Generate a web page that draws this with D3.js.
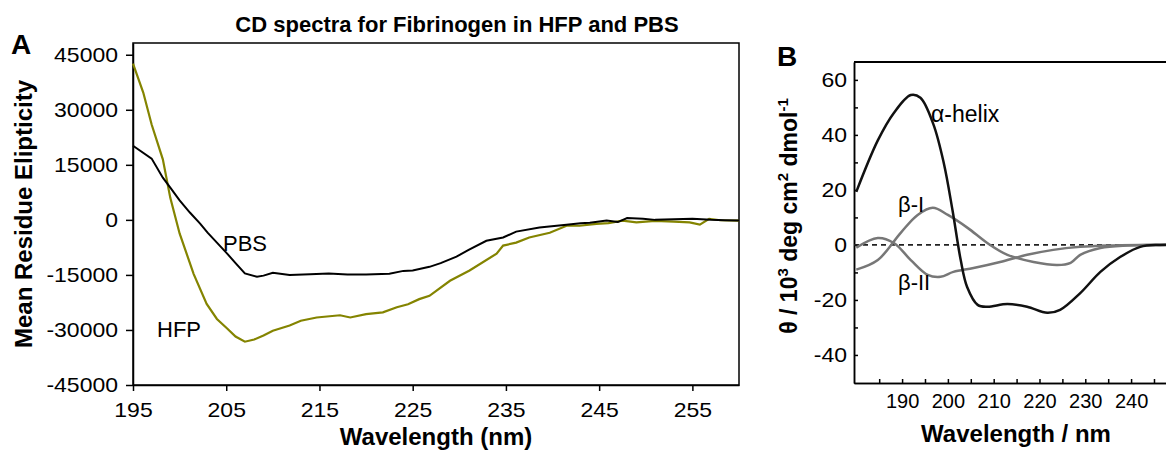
<!DOCTYPE html>
<html>
<head>
<meta charset="utf-8">
<script src="https://cdn.jsdelivr.net/npm/d3@7"></script>
<style>
  body { margin: 0; background: #fff; }
  svg { display: block; font-family: Arial, "Liberation Sans", sans-serif; }
  .axis path, .axis line { stroke: #000; stroke-width: 1.5; }
  .axis text { font-size: 20px; fill: #000; }
</style>
</head>
<body>
<div id="chart"></div>
<script>
var width = 1166, height = 451;
var stretch = 1.15; // tick labels are drawn a little wide in the original

// Panel A data: wavelength (nm) and mean residue ellipticity
var pbsWave = [195, 197, 198.2, 199, 200, 201.1, 202.2, 203, 204, 205.1, 206, 207, 208.3, 209, 210, 211.8, 214, 216, 218, 220, 222.5, 224, 225, 226.8, 228, 229.7, 231, 232.9, 234.7, 236.1, 238.6, 241.5, 243, 244, 245.8, 247, 248, 249.7, 251, 253, 255, 257, 258.5, 260];
var pbsVals = [20200, 16700, 11500, 8800, 5300, 2000, -1000, -3500, -6200, -9200, -11800, -14600, -15500, -15200, -14400, -15000, -14800, -14600, -14900, -14900, -14700, -13900, -13800, -12800, -11800, -10000, -8200, -5700, -4800, -3200, -2100, -1300, -900, -800, -200, -600, 500, 300, 0, 200, 300, 0, -100, -200];

var hfpWave = [195, 196.1, 197, 198.2, 199, 200, 201.5, 202.9, 204, 205.1, 206, 207, 208, 209, 210, 211.8, 213, 214.7, 217.2, 218.3, 220, 221.8, 223.3, 224.5, 225.7, 226.8, 229, 231.1, 234, 234.7, 236.1, 237.5, 239.7, 241.5, 242.9, 244.7, 246, 247.5, 249, 251, 253, 254.7, 255.8, 256.8, 258, 260];
var hfpVals = [42600, 34700, 26000, 16500, 6000, -3700, -14700, -22900, -27000, -29600, -31800, -33200, -32600, -31500, -30200, -28800, -27500, -26600, -26000, -26600, -25700, -25200, -23800, -23000, -21600, -20700, -16600, -13800, -9200, -7000, -6200, -4800, -3500, -1600, -1600, -1100, -900, -200, -700, -300, -500, -700, -1300, 300, -100, -200];

var xTicksA = [195, 205, 215, 225, 235, 245, 255];
var yTicksA = [-45000, -30000, -15000, 0, 15000, 30000, 45000];

// Panel B data: reference spectra (10^3 deg cm2 dmol-1)
var helixWave = [180, 184.7, 188.2, 191.9, 194, 196.8, 199.1, 201, 202.8, 204.2, 206.5, 208.6, 213, 217.3, 221.7, 224.5, 228.9, 233.3, 237.6, 242, 246.3, 250];
var helixVals = [19.3, 38, 48, 54.5, 53.5, 44, 29.8, 12.7, -5.5, -15.3, -21.8, -22.5, -21.5, -22.5, -24.7, -23.6, -17.5, -9.8, -4.4, -0.7, 0, 0];

var beta1Wave = [180, 184.7, 189.7, 193.4, 196.7, 200, 204.3, 208.6, 213, 218.7, 223.9, 226.8, 228.9, 233.3, 239.2, 246, 250];
var beta1Vals = [-9, -5.5, 4.4, 10.9, 13.5, 10.9, 6.2, 0.7, -3.6, -6.2, -7.3, -6.5, -3.6, -1.1, -0.2, 0, 0];

var beta2Wave = [180, 184.7, 188.2, 191.9, 195.6, 198.4, 201.2, 205.6, 211.4, 217.3, 223, 228.9, 234.7, 242, 250];
var beta2Vals = [-1, 2.5, 0.7, -5.5, -10.9, -11.6, -9.8, -8.4, -6.2, -3.6, -1.8, -0.7, -0.2, 0, 0];

var xTicksB = [190, 200, 210, 220, 230, 240];
var yTicksB = [-40, -20, 0, 20, 40, 60];

var svg = d3.select("#chart")
  .append("svg")
  .attr("width", width)
  .attr("height", height);

// plain text helper
function label(x, y, size, txt, bold, anchor) {
  return svg.append("text")
    .attr("x", x).attr("y", y)
    .attr("font-size", size)
    .attr("font-weight", bold ? "bold" : "normal")
    .attr("text-anchor", anchor || "start")
    .text(txt);
}

// ---------- Panel A ----------
var A = { left: 133, right: 739, top: 43, bottom: 385 };

var xA = d3.scaleLinear().domain([195, 260]).range([A.left, A.right]);
var yA = d3.scaleLinear().domain([-45000, 48200]).range([A.bottom, A.top]);

// frame
svg.append("rect")
  .attr("x", A.left).attr("y", A.top)
  .attr("width", A.right - A.left).attr("height", A.bottom - A.top)
  .attr("fill", "none").attr("stroke", "#000").attr("stroke-width", 1.5);

svg.append("g")
  .attr("class", "axis")
  .attr("transform", `translate(0,${A.bottom})`)
  .call(d3.axisBottom(xA).tickValues(xTicksA).tickSize(6).tickSizeOuter(0).tickFormat(d => d))
  .selectAll("text")
  .attr("y", 32).attr("dy", 0)
  .attr("transform", `scale(${stretch},1)`);

var ayA = svg.append("g")
  .attr("class", "axis")
  .attr("transform", `translate(${A.left},0)`)
  .call(d3.axisLeft(yA).tickValues(yTicksA).tickSize(7).tickSizeOuter(0).tickFormat(d => d));
ayA.selectAll("text")
  .attr("x", -15 / stretch)
  .attr("transform", `scale(${stretch},1)`);

var lineA = d3.line().x(d => xA(d[0])).y(d => yA(d[1]));

svg.append("path")
  .datum(d3.zip(hfpWave, hfpVals))
  .attr("d", lineA)
  .attr("fill", "none")
  .attr("stroke", "#848400")
  .attr("stroke-width", 2.2);

svg.append("path")
  .datum(d3.zip(pbsWave, pbsVals))
  .attr("d", lineA)
  .attr("fill", "none")
  .attr("stroke", "#000")
  .attr("stroke-width", 2);

label(223, 251, 22, "PBS");
label(157, 337, 22, "HFP");

label(457, 32, 22, "CD spectra for Fibrinogen in HFP and PBS", true, "middle");
label(11, 54, 28, "A", true);

svg.append("text")
  .attr("transform", `translate(32,214) rotate(-90)`)
  .attr("text-anchor", "middle")
  .attr("font-size", 24).attr("font-weight", "bold")
  .text("Mean Residue Elipticity");

label(436, 445, 24, "Wavelength (nm)", true, "middle");

// ---------- Panel B ----------
var B = { left: 854, top: 62, bottom: 383 };

var xB = d3.scaleLinear().domain([179.5, 250]).range([B.left, B.left + 70.5 * 4.58]);
var yB = d3.scaleLinear().domain([-50.2, 66.5]).range([B.bottom, B.top]);

svg.append("line")
  .attr("x1", B.left).attr("x2", width)
  .attr("y1", B.top).attr("y2", B.top)
  .attr("stroke", "#000").attr("stroke-width", 2);

// minor ticks (inside)
svg.append("g")
  .attr("class", "axis")
  .attr("transform", `translate(0,${B.bottom})`)
  .call(d3.axisTop(xB).tickValues(d3.range(185, 250, 5)).tickSize(4).tickSizeOuter(0).tickFormat(""));

svg.append("g")
  .attr("class", "axis")
  .attr("transform", `translate(${B.left},0)`)
  .call(d3.axisRight(yB).tickValues(d3.range(-40, 66, 10)).tickSize(4).tickSizeOuter(0).tickFormat(""));

// labelled axes
var axB = svg.append("g")
  .attr("class", "axis")
  .attr("transform", `translate(0,${B.bottom})`)
  .call(d3.axisBottom(xB).tickValues(xTicksB).tickSize(0).tickSizeOuter(0).tickFormat(d => d));
axB.select(".domain").attr("stroke-width", 2.2);
axB.selectAll("text").attr("y", 25).attr("dy", 0);

var ayB = svg.append("g")
  .attr("class", "axis")
  .attr("transform", `translate(${B.left},0)`)
  .call(d3.axisLeft(yB).tickValues(yTicksB).tickSize(0).tickSizeOuter(0).tickFormat(d => d));
ayB.select(".domain").attr("stroke-width", 2.2);
ayB.selectAll("text")
  .attr("x", -7 / stretch)
  .attr("transform", `scale(${stretch},1)`);

// zero reference
svg.append("line")
  .attr("x1", B.left).attr("x2", width)
  .attr("y1", yB(0)).attr("y2", yB(0))
  .attr("stroke", "#222").attr("stroke-width", 1.6)
  .attr("stroke-dasharray", "5,4");

var lineB = d3.line().x(d => xB(d[0])).y(d => yB(d[1])).curve(d3.curveCatmullRom);

svg.append("path")
  .datum(d3.zip(beta2Wave, beta2Vals))
  .attr("d", lineB).attr("fill", "none")
  .attr("stroke", "#777").attr("stroke-width", 2.5);

svg.append("path")
  .datum(d3.zip(beta1Wave, beta1Vals))
  .attr("d", lineB).attr("fill", "none")
  .attr("stroke", "#777").attr("stroke-width", 2.5);

svg.append("path")
  .datum(d3.zip(helixWave, helixVals))
  .attr("d", lineB).attr("fill", "none")
  .attr("stroke", "#111").attr("stroke-width", 2.5);

label(931, 122, 23, "α-helix");
label(898, 212, 22, "β-I");
label(898, 290, 22, "β-II");

label(777, 66, 28, "B", true);

var yLabB = svg.append("text")
  .attr("transform", `translate(797,216) rotate(-90)`)
  .attr("text-anchor", "middle")
  .attr("font-size", 23).attr("font-weight", "bold");
yLabB.append("tspan").text("θ / 10");
yLabB.append("tspan").attr("dy", -9).attr("font-size", 15).text("3");
yLabB.append("tspan").attr("dy", 9).text(" deg cm");
yLabB.append("tspan").attr("dy", -9).attr("font-size", 15).text("2");
yLabB.append("tspan").attr("dy", 9).text(" dmol");
yLabB.append("tspan").attr("dy", -9).attr("font-size", 15).text("-1");

label(1016, 442, 24, "Wavelength / nm", true, "middle");
</script>
</body>
</html>
